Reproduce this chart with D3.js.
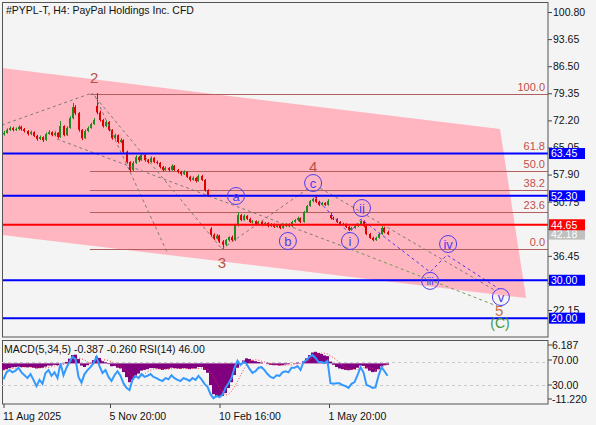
<!DOCTYPE html>
<html>
<head>
<meta charset="utf-8">
<script src="https://cdn.jsdelivr.net/npm/d3@7"></script>
<style>
  body { margin: 0; background: #f4f4f4; }
  svg text { font-family: "Liberation Sans", Arial, sans-serif; }
</style>
</head>
<body>
<svg id="chart" width="596" height="425"></svg>
<script>
// ---- data ----
// H4 candles [open, high, low, close], one per bar index
var candles = [
  [68.5,69.4,68.2,68.9],[68.9,70.1,68.7,69.7],[69.7,70.6,69.4,70.2],[70.2,70.5,69.3,69.7],[69.7,70.3,69.4,69.9],
  [69.9,70.9,69.6,70.5],[70.5,70.8,69.5,69.9],[69.9,70.2,69.0,69.4],[69.4,69.6,68.2,68.6],[68.6,69.5,68.3,69.1],
  [69.1,69.3,67.8,68.1],[68.1,68.4,66.8,67.3],[67.3,68.2,67.0,67.8],[67.8,68.0,66.5,67.0],[67.0,69.0,66.8,68.6],
  [68.6,69.6,68.4,69.1],[69.1,69.3,68.0,68.3],[68.3,69.3,68.0,68.9],[68.9,69.1,67.4,67.8],[67.8,72.0,67.6,70.7],
  [70.7,70.9,68.0,68.3],[68.3,70.6,68.1,70.2],[70.2,73.3,70.0,72.8],[72.8,76.8,72.5,75.7],[75.7,76.2,73.6,74.1],
  [74.1,74.4,69.2,69.7],[69.7,69.9,67.0,67.5],[67.5,69.8,67.3,69.4],[69.4,70.6,69.1,70.2],[70.2,71.6,70.0,71.2],
  [71.2,72.8,71.0,72.3],[76.0,79.4,73.8,74.3],[74.3,74.8,71.9,72.3],[72.3,72.6,70.3,70.7],[70.7,72.2,70.4,71.8],
  [71.8,72.0,69.3,69.7],[69.7,69.9,67.1,67.5],[67.5,68.7,67.2,68.3],[68.3,68.5,66.1,66.5],[66.5,67.5,66.2,67.0],
  [67.0,67.2,63.5,63.9],[63.9,64.2,60.8,61.2],[61.2,61.4,58.5,59.1],[59.1,61.4,58.8,61.0],[61.0,63.0,60.7,62.5],
  [62.5,62.8,61.2,61.7],[61.7,63.6,61.5,63.1],[63.1,63.3,61.3,61.7],[61.7,62.0,60.8,61.2],[61.2,62.7,61.0,62.3],
  [62.3,62.5,60.9,61.2],[61.2,61.6,60.6,61.0],[61.0,61.2,59.5,59.9],[59.9,60.2,58.7,59.1],[59.1,60.0,58.9,59.6],
  [59.6,59.9,58.7,59.1],[59.1,60.6,58.9,60.2],[60.2,60.4,58.8,59.1],[59.1,59.4,58.2,58.6],[58.6,58.9,57.6,58.0],
  [58.0,59.0,57.8,58.6],[58.6,58.8,57.0,57.3],[57.3,57.6,56.1,56.5],[56.5,57.4,56.3,57.0],[57.0,57.2,55.8,56.2],
  [56.2,57.9,56.0,57.5],[57.5,57.8,56.2,56.5],[56.5,56.7,53.4,53.8],[53.8,54.0,52.0,52.5],[43.6,44.0,41.6,42.0],
  [42.0,42.4,40.6,41.0],[41.0,42.2,40.8,41.8],[41.8,42.0,39.8,40.2],[40.2,40.6,38.3,39.4],[39.4,40.9,39.0,40.6],
  [40.6,41.6,40.2,41.4],[41.4,41.8,40.2,40.6],[40.6,44.9,40.4,44.6],[44.6,48.0,44.2,47.2],[47.2,47.5,45.6,45.9],
  [45.9,47.4,45.7,47.0],[47.0,47.2,45.9,46.2],[46.2,46.5,45.1,45.4],[45.4,45.9,45.0,45.6],[45.6,45.8,44.5,44.8],
  [44.8,45.7,44.6,45.4],[45.4,45.6,44.3,44.6],[44.6,45.4,44.4,45.1],[45.1,45.3,44.0,44.3],[44.3,45.1,44.1,44.8],
  [44.8,45.0,43.8,44.1],[44.1,44.9,43.9,44.6],[44.6,44.8,43.5,43.8],[43.8,44.6,43.6,44.3],[44.3,45.1,44.1,44.8],
  [44.8,45.0,44.0,44.3],[44.3,45.7,44.1,45.4],[45.4,46.2,45.2,45.9],[45.9,46.8,45.6,46.4],[46.4,46.6,45.1,45.4],
  [45.4,48.3,45.2,48.0],[48.0,49.9,47.8,49.6],[49.6,51.2,49.4,50.9],[50.9,51.8,50.6,51.5],[51.5,52.2,50.4,50.7],
  [50.7,51.0,49.6,49.9],[49.9,50.7,49.7,50.4],[50.4,50.6,49.6,49.9],[49.9,51.4,49.7,50.9],[47.2,47.8,46.0,46.4],
  [46.4,46.7,45.9,46.2],[46.2,46.4,45.1,45.4],[45.4,45.6,44.5,44.8],[44.8,45.2,44.5,44.9],[44.9,45.0,43.8,44.1],
  [44.1,44.3,43.0,43.3],[43.3,44.1,43.1,43.8],[43.8,44.6,43.6,44.3],[44.3,44.9,44.1,44.6],[44.6,45.9,44.4,45.6],
  [45.6,45.8,44.0,44.3],[44.3,44.5,41.9,42.2],[42.2,42.5,40.9,41.2],[41.2,41.5,40.3,40.6],[40.6,41.5,40.4,41.2],
  [41.2,42.5,41.0,42.2],[42.2,44.3,42.0,43.8],[43.8,44.1,42.4,42.7],[42.7,43.1,41.9,42.18]
];

var rsi = [
  40,52,56,52,55,60,52,47,42,49, 39,28,39,32,51,56,46,52,42,68,
  47,60,70,79,75,44,34,49,56,61, 68,79,63,51,56,44,37,47,54,46,
  33,25,21,39,46,42,49,44,46,49, 44,42,39,37,42,40,47,42,39,37,
  42,40,37,42,39,46,40,32,27,14, 7,11,9,13,25,33,42,60,72,65,
  70,67,58,51,54,60,61,56,49,44, 42,47,46,52,54,52,60,60,63,56,
  70,73,79,82,77,70,70,68,72,33, 32,33,33,30,28,25,32,35,47,61,
  52,30,28,25,26,46,61,54,46
];

var macd = [
  -1.8,-1.6,-1.3,-1.1,-1.0,-0.9,-1.0,-1.0,-1.1,-1.0, -1.2,-1.4,-1.3,-1.2,-0.9,-0.6,-0.6,-0.4,-0.5,0.0,
  -0.1,0.4,1.3,2.3,2.4,1.2,-0.6,-1.0,-0.5,0.2, 0.9,1.9,1.5,0.6,0.3,-0.2,-0.8,-0.7,-1.2,-1.4,
  -2.4,-3.8,-5.2,-4.6,-3.4,-2.8,-2.0,-1.8,-1.6,-1.3, -1.3,-1.4,-1.6,-1.8,-1.6,-1.5,-1.2,-1.3,-1.4,-1.5,
  -1.3,-1.4,-1.6,-1.4,-1.4,-1.0,-1.0,-1.8,-2.6,-6.0, -8.5,-9.2,-9.3,-9.0,-8.2,-6.8,-5.2,-3.2,-1.2,-0.2,
  0.8,1.4,1.2,0.8,0.6,0.4,0.2,0.0,-0.2,-0.4, -0.5,-0.5,-0.6,-0.5,-0.3,-0.2,0.0,0.1,0.2,0.0,
  0.6,1.4,2.3,3.0,3.2,2.9,2.6,2.2,2.0,0.5, -0.4,-1.0,-1.4,-1.6,-1.8,-1.9,-1.8,-1.6,-1.2,-0.6,
  -0.7,-1.4,-2.0,-2.4,-2.3,-1.6,-0.8,-0.5,-0.387
];

var signal = [
  -1.9,-1.8,-1.6,-1.4,-1.3,-1.2,-1.1,-1.0,-1.0,-1.0, -1.1,-1.1,-1.2,-1.2,-1.2,-1.1,-0.9,-0.7,-0.6,-0.4,
  -0.3,-0.1,0.2,0.8,1.3,1.5,1.3,0.9,0.4,0.0, -0.2,0.1,0.6,0.9,1.0,0.8,0.5,0.0,-0.4,-0.9,
  -1.3,-1.9,-2.8,-3.5,-3.9,-4.0,-3.6,-2.9,-2.3,-1.9, -1.6,-1.5,-1.4,-1.5,-1.5,-1.6,-1.5,-1.4,-1.4,-1.4,
  -1.4,-1.4,-1.4,-1.4,-1.4,-1.4,-1.3,-1.3,-1.6,-2.5, -3.8,-5.3,-6.8,-8.0,-8.8,-8.5,-7.7,-6.5,-5.0,-3.3,
  -1.8,-0.4,0.6,0.9,1.0,0.9,0.6,0.4,0.2,0.0, -0.2,-0.3,-0.5,-0.5,-0.5,-0.4,-0.4,-0.2,-0.1,0.0,
  0.2,0.4,0.9,1.5,2.1,2.6,2.8,2.8,2.6,2.1, 1.6,0.9,0.2,-0.6,-1.2,-1.5,-1.7,-1.7,-1.7,-1.4,
  -1.2,-1.1,-1.2,-1.4,-1.8,-1.6,-1.1,-0.6,-0.26
];

var priceTicks = [100.80, 93.65, 86.50, 79.35, 72.20, 65.05, 57.90, 50.75, 43.60, 36.45, 29.30, 22.15];
// tick labels that sit fully under a level box in the picture
var coveredTicks = [43.60, 29.30];
var dateTickIdx = [0, 35.5, 72, 108.5];
var dateTickLabels = ["11 Aug 2025", "5 Nov 20:00", "10 Feb 16:00", "1 May 20:00"];

var blueLevels = [63.45, 52.30, 30.00, 20.00];
var redLevel = 44.65;
var lastPrice = 42.18;

var fibHigh = 79.2, fibLow = 38.25, fibStartIdx = 28.8;
var fibLevels = [0, 23.6, 38.2, 50, 61.8, 100];

// pink channel corners [bar index, price]
var channel = [[-0.5, 86.0], [165.5, 69.9], [174.2, 25.3], [-0.5, 41.95]];

var waveLabels = [
  {t: "2", i: 30.2, p: 83.4}, {t: "3", i: 72.8, p: 34.6},
  {t: "4", i: 103.2, p: 59.9}, {t: "5", i: 165.2, p: 21.9}
];
var waveC = {t: "(C)", i: 165.5, p: 18.7};
var circleLabels = [
  {t: "a", i: 77.5, p: 52.24}, {t: "b", i: 94.8, p: 40.36}, {t: "c", i: 103.2, p: 55.67},
  {t: "i", i: 115.5, p: 40.36}, {t: "ii", i: 119.5, p: 49.07}, {t: "iii", i: 142.2, p: 29.84},
  {t: "iv", i: 148.2, p: 39.57}, {t: "v", i: 165.8, p: 25.58}
];

var greyLines = [
  [[-0.5, 70.98], [29.5, 79.42]],
  [[29.5, 79.42], [72.8, 38.25]],
  [[30.5, 78.63], [54.5, 37.46]],
  [[17.8, 67.28], [113.8, 38.78]],
  [[72.8, 38.25], [102.2, 54.61]],
  [[105.5, 54.35], [164.2, 27.17]]
];
var greenLine = [[113.8, 38.78], [164.5, 23.21]];
var blueWave = [[103.8, 51.98], [115.2, 42.47], [119.2, 46.17], [142.2, 32.18], [147.8, 36.67], [165.2, 27.70]];

var macdText = "MACD(5,34,5) -0.387 -0.260 RSI(14) 46.00";

// ---- drawing ----
var svg = d3.select("#chart");
svg.append("rect").attr("width", 596).attr("height", 425).attr("fill", "#f4f4f4");

var x = d3.scaleLinear().domain([-0.5, 181.5]).range([2, 548]);
var y = d3.scaleLinear().domain([15.03, 103.44]).range([337, 2]);
var rsiY = d3.scaleLinear().domain([30, 70]).range([385, 362]);
var macdY = d3.scaleLinear().domain([-11.22, 6.187]).range([404, 341]);

var defs = svg.append("defs");
defs.append("clipPath").attr("id", "mainClip")
    .append("rect").attr("x", 2).attr("y", 2).attr("width", 546).attr("height", 335);
defs.append("clipPath").attr("id", "subClip")
    .append("rect").attr("x", 2).attr("y", 340).attr("width", 546).attr("height", 64);

var g = svg.append("g").attr("clip-path", "url(#mainClip)");
var pt = d3.line().x(d => x(d[0])).y(d => y(d[1]));

g.append("path")
 .attr("d", pt(channel) + "Z")
 .attr("fill", "#ffb6c1");

// fibonacci levels
var fibColor = "#b45f5f";
fibLevels.forEach(function(l) {
    var p = fibLow + (fibHigh - fibLow) * l / 100;
    g.append("line")
     .attr("x1", x(fibStartIdx)).attr("x2", 548)
     .attr("y1", Math.round(y(p)) + 0.5).attr("y2", Math.round(y(p)) + 0.5)
     .attr("stroke", fibColor).attr("stroke-width", 1);
    g.append("text")
     .attr("x", 545).attr("y", y(p) - 3)
     .attr("text-anchor", "end")
     .attr("font-size", 11)
     .attr("fill", "#c0504d")
     .text(l.toFixed(1));
});

// candles
var cg = g.append("g");
candles.forEach(function(c, i) {
    var cx = Math.round(x(i));
    var col = c[3] >= c[0] ? "#1f8a1f" : "#e00000";
    cg.append("rect")
      .attr("x", cx).attr("width", 1)
      .attr("y", y(c[1])).attr("height", Math.max(1, y(c[2]) - y(c[1])))
      .attr("fill", col);
    var top = y(Math.max(c[0], c[3])), bot = y(Math.min(c[0], c[3]));
    cg.append("rect")
      .attr("x", cx - 1).attr("width", 2)
      .attr("y", top).attr("height", Math.max(1, bot - top))
      .attr("fill", col);
});

// dashed wave lines
greyLines.forEach(function(l) {
    g.append("path").attr("d", pt(l))
     .attr("stroke", "#7a7a7a").attr("stroke-width", 1)
     .attr("stroke-dasharray", "3,3").attr("fill", "none");
});
g.append("path").attr("d", pt(greenLine))
 .attr("stroke", "#6f9a5a").attr("stroke-width", 1)
 .attr("stroke-dasharray", "3,3").attr("fill", "none");
g.append("path").attr("d", pt(blueWave))
 .attr("stroke", "#4b3cf0").attr("stroke-width", 1)
 .attr("stroke-dasharray", "3,3").attr("fill", "none");

// horizontal levels
blueLevels.forEach(function(p) {
    g.append("line").attr("x1", 2).attr("x2", 548)
     .attr("y1", y(p)).attr("y2", y(p))
     .attr("stroke", "#0000ff").attr("stroke-width", 2);
});
g.append("line").attr("x1", 2).attr("x2", 548)
 .attr("y1", y(redLevel)).attr("y2", y(redLevel))
 .attr("stroke", "#ff0000").attr("stroke-width", 2);

// wave labels
waveLabels.forEach(function(w) {
    g.append("text").attr("x", x(w.i)).attr("y", y(w.p))
     .attr("dy", "0.35em").attr("text-anchor", "middle")
     .attr("font-size", 15)
     .attr("fill", w.t === "5" ? "#c8704a" : "#b5524a")
     .text(w.t);
});
g.append("text").attr("x", x(waveC.i)).attr("y", y(waveC.p))
 .attr("dy", "0.35em").attr("text-anchor", "middle")
 .attr("font-size", 14).attr("fill", "#3f9a3f")
 .text(waveC.t);

circleLabels.forEach(function(c) {
    g.append("circle").attr("cx", x(c.i)).attr("cy", y(c.p)).attr("r", 8.5)
     .attr("fill", "none").attr("stroke", "#4b3cf0").attr("stroke-width", 1);
    g.append("text").attr("x", x(c.i)).attr("y", y(c.p))
     .attr("dy", "0.35em").attr("text-anchor", "middle")
     .attr("font-size", c.t.length > 2 ? 11 : 13).attr("fill", "#4b3cf0")
     .text(c.t);
});

// title
svg.append("text").attr("x", 6).attr("y", 14)
   .attr("font-size", 10.5).attr("fill", "#111")
   .text("#PYPL-T, H4:  PayPal Holdings Inc. CFD");

// price axis
var yAxis = svg.append("g")
    .attr("transform", "translate(548,0)")
    .call(d3.axisRight(y).tickValues(priceTicks).tickSize(4).tickPadding(1)
          .tickFormat(d => coveredTicks.indexOf(d) >= 0 ? "" : d3.format(".2f")(d)));
yAxis.select(".domain").remove();
yAxis.selectAll("line").attr("stroke", "#444");
yAxis.selectAll("text").attr("font-size", 10.5).attr("fill", "#111")
     .style("font-family", "Liberation Sans, Arial, sans-serif");

// level boxes on the axis
function levelBox(p, bg) {
    svg.append("rect").attr("x", 549).attr("y", y(p) - 5.5)
       .attr("width", 36).attr("height", 11).attr("fill", bg);
    svg.append("text").attr("x", 551).attr("y", y(p))
       .attr("dy", "0.36em").attr("font-size", 10.5).attr("fill", "#fff")
       .text(p.toFixed(2));
}
levelBox(lastPrice, "#c0c0c0");
blueLevels.forEach(function(p) { levelBox(p, "#0000ff"); });
levelBox(redLevel, "#ff0000");

// panel frames
svg.append("rect").attr("x", 2.5).attr("y", 2.5).attr("width", 545.5).attr("height", 334.5)
   .attr("fill", "none").attr("stroke", "#555");
svg.append("rect").attr("x", 2.5).attr("y", 340.5).attr("width", 545.5).attr("height", 63.5)
   .attr("fill", "none").attr("stroke", "#555");

// ---- MACD / RSI sub-window ----
var sg = svg.append("g").attr("clip-path", "url(#subClip)");
var rsiRefs = [70, 30];
rsiRefs.forEach(function(v) {
    sg.append("line").attr("x1", 2).attr("x2", 548)
      .attr("y1", rsiY(v) + 0.5).attr("y2", rsiY(v) + 0.5)
      .attr("stroke", "#c8c8c8").attr("stroke-dasharray", "3,3");
});
sg.selectAll(".hist").data(macd).enter().append("rect")
  .attr("x", (d, i) => x(i) - 1.5).attr("width", 3)
  .attr("y", d => Math.min(macdY(d), macdY(0)))
  .attr("height", d => Math.abs(macdY(d) - macdY(0)))
  .attr("fill", "#800080");
sg.append("path").datum(signal)
  .attr("d", d3.line().x((d, i) => x(i)).y(d => macdY(d)))
  .attr("fill", "none").attr("stroke", "#ff3030").attr("stroke-width", 1)
  .attr("stroke-dasharray", "1,2");
sg.append("path").datum(rsi)
  .attr("d", d3.line().x((d, i) => x(i)).y(d => rsiY(d)))
  .attr("fill", "none").attr("stroke", "#3399ff").attr("stroke-width", 2);

svg.append("text").attr("x", 4).attr("y", 353)
   .attr("font-size", 10.5).attr("fill", "#111").text(macdText);

var subLabels = [
  {t: "6.187", y: macdY(6.187) + 4},
  {t: "70.00", y: rsiY(70) - 2},
  {t: "30.00", y: rsiY(30)},
  {t: "-11.220", y: macdY(-11.22) - 5}
];
subLabels.forEach(function(s) {
    svg.append("line").attr("x1", 548).attr("x2", 552)
       .attr("y1", s.y).attr("y2", s.y).attr("stroke", "#444");
    svg.append("text").attr("x", 552).attr("y", s.y).attr("dy", "0.35em")
       .attr("font-size", 10.5).attr("fill", "#111").text(s.t);
});

// time axis
var xAxis = svg.append("g")
    .attr("transform", "translate(0,404)")
    .call(d3.axisBottom(x).tickValues(dateTickIdx).tickSize(4)
          .tickFormat((d, i) => dateTickLabels[i]));
xAxis.select(".domain").remove();
xAxis.selectAll("line").attr("stroke", "#444");
xAxis.selectAll("text").attr("text-anchor", "start").attr("dx", -1).attr("dy", "0.9em")
     .attr("font-size", 10.5).attr("fill", "#111")
     .style("font-family", "Liberation Sans, Arial, sans-serif");
</script>
</body>
</html>
